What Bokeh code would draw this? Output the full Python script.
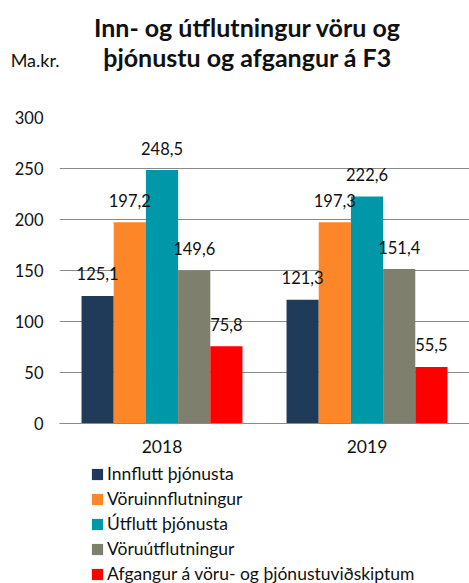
from bokeh.plotting import figure
from bokeh.models import ColumnDataSource, Label, Legend, LegendItem, FixedTicker, FactorRange, Range1d
from bokeh.layouts import column
from bokeh.transform import dodge
from bokeh.core.properties import value
from bokeh.embed import file_html
from bokeh.resources import INLINE

years = ["2018", "2019"]
series_names = [
    "Innflutt þjónusta",
    "Vöruinnflutningur",
    "Útflutt þjónusta",
    "Vöruútflutningur",
    "Afgangur á vöru- og þjónustuviðskiptum",
]
innflutt_thjonusta = [125.1, 121.3]
voruinnflutningur = [197.2, 197.3]
utflutt_thjonusta = [248.5, 222.6]
voruutflutningur = [149.6, 151.4]
afgangur = [75.8, 55.5]
y_ticks = [0, 50, 100, 150, 200, 250, 300]
title_lines = ["Inn- og útflutningur vöru og", "þjónustu og afgangur á F3"]
unit_label = "Ma.kr."

series_values = [innflutt_thjonusta, voruinnflutningur, utflutt_thjonusta, voruutflutningur, afgangur]
colors = ["#203A59", "#FD8628", "#0097A9", "#7F7F6D", "#FF0000"]

FONT = "Lato"
TXT = "#111111"
W = 469
LEFT = 59
HEAD_H = 104
MAIN_H = 353
LEG_H = 583 - HEAD_H - MAIN_H

# ---- header (title + unit) ----
head = figure(width=W, height=HEAD_H, x_range=Range1d(LEFT, W), y_range=Range1d(HEAD_H, 14),
              x_axis_type=None, output_backend="svg", toolbar_location=None,
              min_border_left=LEFT, min_border_right=0,
              min_border_top=14, min_border_bottom=0)
head.grid.visible = False
head.outline_line_color = None
head.title.visible = False
head.yaxis.ticker = FixedTicker(ticks=[])
head.yaxis.axis_line_color = None
head.yaxis.major_tick_line_color = None
head.yaxis.minor_tick_line_color = None
head.yaxis.major_tick_out = 0
head.yaxis.minor_tick_out = 0
head.yaxis.axis_label = unit_label
head.yaxis.axis_label_orientation = "horizontal"
head.yaxis.axis_label_standoff = 0
head.yaxis.axis_label_text_font = FONT
head.yaxis.axis_label_text_font_size = "18px"
head.yaxis.axis_label_text_font_style = "normal"
head.yaxis.axis_label_text_color = TXT
head.add_layout(Label(x=247, y=26, text=title_lines[0], text_align="center",
                      text_baseline="middle", text_font=FONT, text_font_size="25px",
                      text_font_style="bold", text_color=TXT))
head.add_layout(Label(x=247, y=56, text=title_lines[1], text_align="center",
                      text_baseline="middle", text_font=FONT, text_font_size="25px",
                      text_font_style="bold", text_color=TXT))

# ---- main chart ----
p = figure(
    x_range=FactorRange(*years, range_padding=0),
    y_range=(0, 300),
    width=W, height=MAIN_H,
    output_backend="svg", toolbar_location=None,
    min_border_left=LEFT, min_border_right=0,
    min_border_top=117 - HEAD_H, min_border_bottom=MAIN_H - (423 - HEAD_H),
)
p.title.visible = False
p.outline_line_color = None

bar_w = 0.157
sources = []
for i, (name, vals, col) in enumerate(zip(series_names, series_values, colors)):
    src = ColumnDataSource(dict(
        year=years,
        val=vals,
        lab=[f"{v:.1f}".replace(".", ",") for v in vals],
    ))
    sources.append(src)
    off = (i - 2) * bar_w
    p.vbar(x=dodge("year", off, range=p.x_range), top="val", width=bar_w,
           source=src, fill_color=col, line_color=None)

for i, src in enumerate(sources):
    off = (i - 2) * bar_w
    p.text(x=dodge("year", off, range=p.x_range), y="val", text="lab", source=src,
           text_align="center", text_baseline="middle", y_offset=-22,
           text_font=value(FONT), text_font_size="16.5px", text_color=TXT)

p.xgrid.grid_line_color = None
p.ygrid.grid_line_color = "#8a8a8a"
p.ygrid.grid_line_width = 1
p.yaxis.ticker = FixedTicker(ticks=y_ticks)
p.yaxis.axis_line_color = None
p.yaxis.major_tick_line_color = None
p.yaxis.minor_tick_line_color = None
p.yaxis.major_tick_out = 0
p.yaxis.major_label_standoff = 16
p.yaxis.major_label_text_font = FONT
p.yaxis.major_label_text_font_size = "16.5px"
p.yaxis.major_label_text_color = TXT

p.xaxis.axis_line_color = "#8a8a8a"
p.xaxis.major_tick_line_color = None
p.xaxis.minor_tick_line_color = None
p.xaxis.major_tick_out = 0
p.xaxis.major_label_standoff = 16
p.xaxis.major_label_text_font = FONT
p.xaxis.major_label_text_font_size = "17.5px"
p.xaxis.major_label_text_color = TXT

# ---- legend panel ----
lf = figure(width=W, height=LEG_H, x_range=FactorRange(*years), y_range=Range1d(0, 1),
            x_axis_type=None, y_axis_type=None,
            output_backend="svg", toolbar_location=None,
            min_border_left=LEFT, min_border_right=0, min_border_top=0, min_border_bottom=0)
lf.grid.visible = False
lf.outline_line_color = None
lf.title.visible = False
items = []
for name, src, col in zip(series_names, sources, colors):
    r = lf.vbar(x="year", top="val", width=0.1, source=src,
                fill_color=col, line_color=None, visible=False)
    items.append(LegendItem(label=name, renderers=[r]))
legend = Legend(items=items, location=(31, -1), orientation="vertical",
                glyph_width=14, glyph_height=14, label_height=14, spacing=4,
                label_standoff=3, padding=0, margin=0,
                border_line_color=None, background_fill_alpha=0,
                label_text_font=FONT, label_text_font_size="17.5px",
                label_text_color=TXT)
lf.add_layout(legend, "center")

layout = column(head, p, lf, spacing=0)
open("out.html", "w").write(file_html(layout, INLINE))
